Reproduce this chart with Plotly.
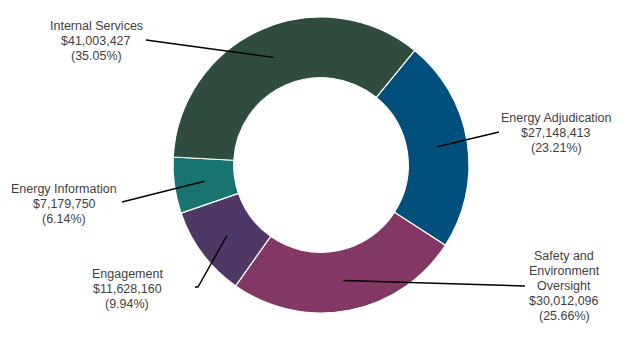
import math
import plotly.graph_objects as go

# Budget by program, in drawing order (clockwise from the first slice)
programs = ["Energy Adjudication", "Safety and Environment Oversight", "Engagement",
            "Energy Information", "Internal Services"]
name_lines = [["Energy Adjudication"], ["Safety and", "Environment", "Oversight"], ["Engagement"],
              ["Energy Information"], ["Internal Services"]]
amounts = [27148413, 30012096, 11628160, 7179750, 41003427]
colors = ["#004F7D", "#823765", "#4F3866", "#187371", "#2F4C3F"]

# Layout (pixels, origin top-left)
W, H = 624, 338
CX, CY, R = 321, 165, 148
HOLE = 0.59
ROTATION = 39.3
LINE_GAP = 14.8
text_pos = [(556, 133), (564, 286), (127, 289), (64, 204), (96, 41)]
line_ends = [[(499, 132)], [(525, 286)], [(198, 287), (195, 287)], [(122, 202)], [(146, 40)]]
FONT = dict(family="Arial, Liberation Sans, sans-serif", size=12.5, color="#3F3F3F")

total = sum(amounts)

def px(x, y):
    return x / W, 1 - y / H

fig = go.Figure(go.Pie(
    labels=programs, values=amounts, sort=False, direction="clockwise",
    rotation=ROTATION, hole=HOLE, textinfo="none", hoverinfo="label+value+percent",
    marker=dict(colors=colors, line=dict(color="white", width=1.2)),
    domain=dict(x=[(CX - R) / W, (CX + R) / W], y=[1 - (CY + R) / H, 1 - (CY - R) / H]),
    showlegend=False,
))

shapes, annotations = [], []
r_mid = R * (1 + HOLE) / 2
cum = 0.0
for lines, amt, tp, ends in zip(name_lines, amounts, text_pos, line_ends):
    frac = amt / total
    mid = math.radians(ROTATION + (cum + frac / 2) * 360)
    cum += frac
    # leader line from the middle of the ring to the label
    ax_, ay_ = CX + r_mid * math.sin(mid), CY - r_mid * math.cos(mid)
    pts = [px(ax_, ay_)] + [px(*e) for e in ends]
    path = "M " + " L ".join(f"{x:.5f},{y:.5f}" for x, y in pts)
    shapes.append(dict(type="path", xref="paper", yref="paper", path=path,
                       line=dict(color="black", width=1.4)))
    # label: name, amount and share, one annotation per line
    rows = lines + [f"${amt:,}", f"({frac * 100:.2f}%)"]
    top = tp[1] - LINE_GAP * (len(rows) - 1) / 2
    for i, row in enumerate(rows):
        tx, ty = px(tp[0], top + i * LINE_GAP)
        annotations.append(dict(
            x=tx, y=ty, xref="paper", yref="paper", showarrow=False,
            xanchor="center", yanchor="middle", text=row, font=FONT,
        ))

fig.update_layout(
    width=W, height=H, margin=dict(l=0, r=0, t=0, b=0),
    paper_bgcolor="white", plot_bgcolor="white",
    shapes=shapes, annotations=annotations,
)

fig.write_html("out.html")
